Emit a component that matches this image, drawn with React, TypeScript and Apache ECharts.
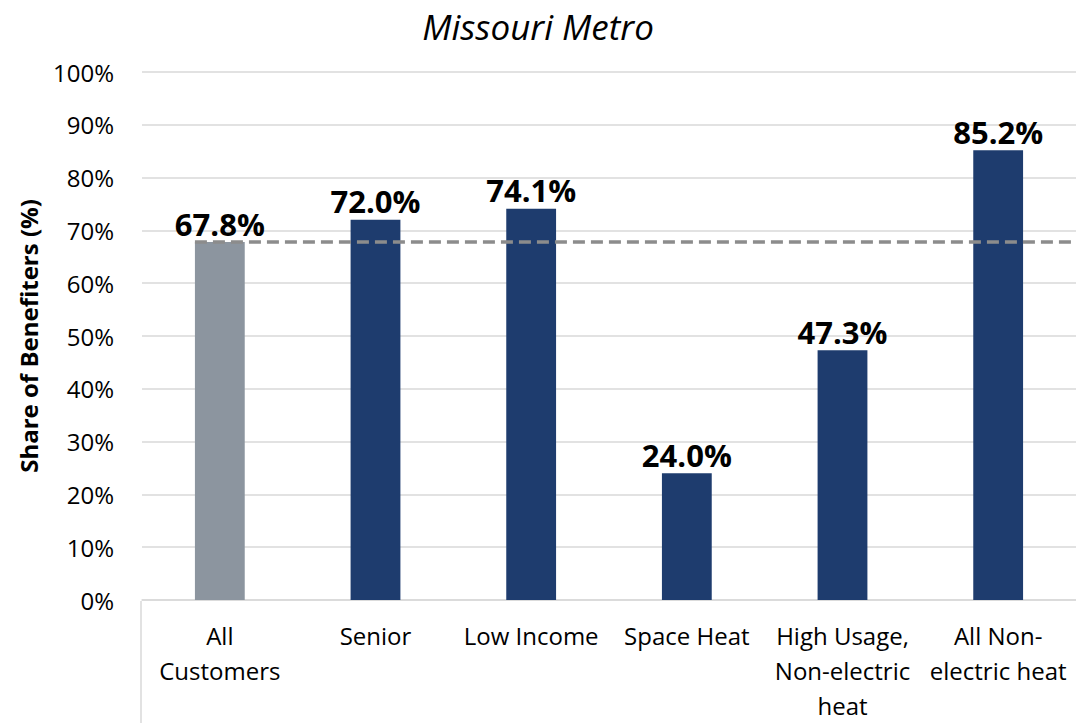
import React, { useEffect, useRef } from "react";
import * as echarts from "echarts";

const categories = [
  "All\nCustomers",
  "Senior",
  "Low Income",
  "Space Heat",
  "High Usage,\nNon-electric\nheat",
  "All Non-\nelectric heat",
];
const values = [67.8, 72.0, 74.1, 24.0, 47.3, 85.2];
const barColors = ["#8c959f", "#1e3c6e", "#1e3c6e", "#1e3c6e", "#1e3c6e", "#1e3c6e"];
const referenceValue = 67.8;
const yTicks = { min: 0, max: 100, interval: 10 };
const titleText = "Missouri Metro";
const yAxisName = "Share of Benefiters (%)";

const FONT = "'Open Sans', sans-serif";

export default function App() {
  const ref = useRef<HTMLDivElement>(null);
  useEffect(() => {
    document.body.style.margin = "0";
    if (!ref.current) return;
    const chart = echarts.init(ref.current, null, { renderer: "svg" });
    const barFrac = 0.32;
    chart.setOption({
      animation: false,
      backgroundColor: "#ffffff",
      textStyle: { fontFamily: FONT },
      title: {
        text: titleText,
        left: "center",
        top: 6,
        padding: 0,
        textStyle: {
          fontFamily: FONT,
          fontStyle: "italic",
          fontWeight: "normal",
          fontSize: 35,
          lineHeight: 40,
          color: "#000",
        },
      },
      grid: { left: 142, right: 0, top: 72, bottom: 122 },
      xAxis: [
        {
          type: "category",
          data: categories,
          axisLine: { show: true, lineStyle: { color: "#d9d9d9", width: 1.5 } },
          axisTick: { show: false },
          axisLabel: { fontFamily: FONT, fontSize: 24, color: "#000", lineHeight: 35, margin: 18, interval: 0 },
        },
        {
          type: "value",
          min: 0,
          max: categories.length,
          show: false,
          position: "bottom",
        },
      ],
      yAxis: {
        type: "value",
        min: yTicks.min,
        max: yTicks.max,
        interval: yTicks.interval,
        name: yAxisName,
        nameLocation: "middle",
        nameGap: 102,
        nameTextStyle: { fontFamily: FONT, fontWeight: "bold", fontSize: 24, color: "#000" },
        axisLine: { show: false },
        axisTick: { show: false },
        splitLine: { lineStyle: { color: "#d9d9d9", width: 1.5 } },
        axisLabel: { formatter: "{value}%", fontFamily: FONT, fontSize: 24, color: "#000", margin: 28 },
      },
      series: [
        {
          type: "bar",
          data: values.map((v, i) => ({ value: v, itemStyle: { color: barColors[i] } })),
          barWidth: `${barFrac * 100}%`,
          label: {
            show: true,
            position: "top",
            distance: 3,
            formatter: (p: any) => `${p.value.toFixed(1)}%`,
            fontFamily: FONT,
            fontWeight: "bold",
            fontSize: 31,
            color: "#000",
          },
          z: 2,
        },
        {
          type: "line",
          xAxisIndex: 1,
          data: [
            [0.5 - barFrac / 2, referenceValue],
            [categories.length, referenceValue],
          ],
          symbol: "none",
          lineStyle: { color: "#8c8c8c", width: 3.5, type: [12, 6] },
          z: 5,
          silent: true,
        },
      ],
      graphic: [
        {
          type: "line",
          shape: { x1: 141, y1: 601, x2: 141, y2: 723 },
          style: { stroke: "#d9d9d9", lineWidth: 1.5 },
        },
      ],
    });
    return () => chart.dispose();
  }, []);
  return <div ref={ref} style={{ width: 1076, height: 723 }} />;
}
